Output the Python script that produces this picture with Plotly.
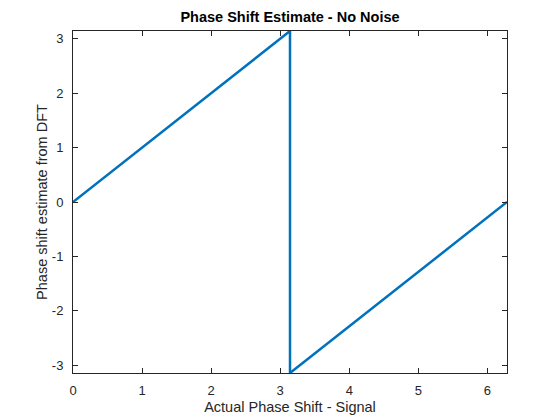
import plotly.graph_objects as go

# actual phase shift vs estimate (wraps at pi)
actual_shift = [0, 3.1416, 3.1416, 6.2832]
estimated_shift = [0, 3.1416, -3.1416, 0]

x_ticks = [0, 1, 2, 3, 4, 5, 6]
y_ticks = [-3, -2, -1, 0, 1, 2, 3]
y_tick_labels = ['-3', '-2', '-1', '0', '1', '2', '3']

axis_col = '#262626'

# the page body adds an 8px margin, so the figure is a bit smaller than the window
W, H = 552, 412

fig = go.Figure()
fig.add_trace(go.Scatter(
	x=actual_shift, y=estimated_shift, mode='lines',
	line=dict(color='#0072BD', width=2.5),
	showlegend=False,
))

common = dict(
	showline=True, linecolor=axis_col, linewidth=1, mirror='ticks',
	ticks='inside', ticklen=5, tickcolor=axis_col, tickwidth=1,
	showgrid=False, zeroline=False, automargin=False,
	tickfont=dict(family='Arial', size=13, color=axis_col),
)

fig.update_layout(
	width=W, height=H,
	margin=dict(l=65, r=53, t=23, b=47, autoexpand=False),
	paper_bgcolor='white', plot_bgcolor='white',
	title=dict(text='<b>Phase Shift Estimate - No Noise</b>', x=(65 + (W - 53 - 65) / 2) / W,
		xanchor='center', y=1 - 13.5 / H, yanchor='bottom',
		font=dict(family='Arial', size=14.5, color='black')),
	xaxis=dict(common, range=[0, 6.2832], tickvals=x_ticks, ticklabelstandoff=5,
		title=dict(text='Actual Phase Shift - Signal', standoff=5,
			font=dict(family='Arial', size=14.5, color=axis_col))),
	yaxis=dict(common, range=[-3.1416, 3.1416], tickvals=y_ticks,
		ticktext=y_tick_labels, ticklabelstandoff=6,
		title=dict(text='Phase shift estimate from DFT', standoff=0,
			font=dict(family='Arial', size=14.5, color=axis_col))),
)

fig.write_html('out.html')
